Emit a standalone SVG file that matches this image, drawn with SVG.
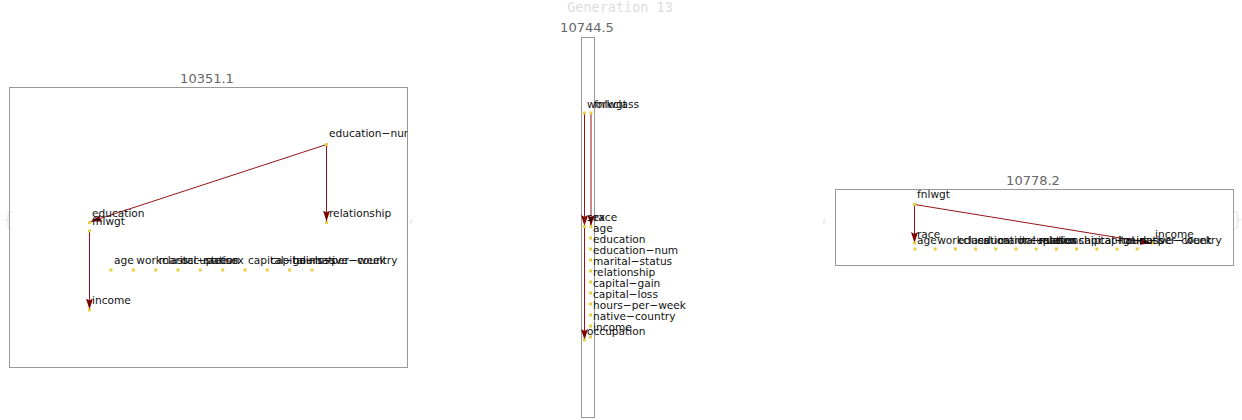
<svg xmlns="http://www.w3.org/2000/svg" width="1242" height="420" viewBox="0 0 1242 420">
<style>
.title{font-family:"DejaVu Sans",sans-serif;font-size:13px;fill:#666;text-anchor:middle}
.gen{font-family:"DejaVu Sans Mono",monospace;font-size:13.5px;fill:#ddd;text-anchor:middle}
.lbl{font-family:"DejaVu Sans",sans-serif;font-size:10.6px;fill:#111}
.panel{fill:none;stroke:#999;stroke-width:1}
.node{fill:#e8d044}
.edge{stroke:#961414;stroke-width:1;fill:none;marker-end:url(#arr)}
.brace{font-family:"DejaVu Sans",sans-serif;font-size:20px;fill:#ececec}
</style>
<defs>
<marker id="arr" markerUnits="userSpaceOnUse" markerWidth="11" markerHeight="7" refX="11" refY="3.5" orient="auto" viewBox="0 0 11 7">
<path d="M0,0 L11,3.5 L0,7 L2,3.5 z" fill="#7a0000"/>
</marker>
<clipPath id="c1"><rect x="9.5" y="87.5" width="398" height="280"/></clipPath>
</defs>
<rect width="1242" height="420" fill="#fff"/>
<text class="gen" x="620" y="12">Generation 13</text>
<text class="brace" x="2" y="226">{</text>
<text class="brace" x="408" y="222">,</text>
<text class="brace" x="821" y="222">,</text>
<text class="brace" x="1231" y="226">}</text>

<g id="panel1">
<text class="title" x="207" y="83">10351.1</text>
<rect class="panel" x="9.5" y="87.5" width="398" height="280"/>
<g id="p1-edges">
<line class="edge" x1="326.5" y1="144.5" x2="91" y2="221.5"/>
<line class="edge" x1="326.5" y1="144.5" x2="326.5" y2="221.5"/>
<line class="edge" x1="89.5" y1="231" x2="89.5" y2="309.5"/>
</g>
<g clip-path="url(#c1)">
<g id="p1-education-num"><rect class="node" x="325" y="143" width="3" height="3"/><text class="lbl" x="329" y="137">education−num</text></g>
<g id="p1-relationship"><rect class="node" x="325" y="221" width="3" height="3"/><text class="lbl" x="329" y="217">relationship</text></g>
<g id="p1-education"><rect class="node" x="88" y="221" width="3" height="3"/><text class="lbl" x="92" y="217">education</text></g>
<g id="p1-fnlwgt"><rect class="node" x="88" y="229.5" width="3" height="3"/><text class="lbl" x="92" y="225">fnlwgt</text></g>
<g id="p1-income"><rect class="node" x="88" y="308.5" width="3" height="3"/><text class="lbl" x="92" y="304">income</text></g>
<g id="p1-age"><rect class="node" x="109.5" y="268.5" width="3" height="3"/><text class="lbl" x="114" y="264">age</text></g>
<g id="p1-workclass"><rect class="node" x="131.8" y="268.5" width="3" height="3"/><text class="lbl" x="136.3" y="264">workclass</text></g>
<g id="p1-marital-status"><rect class="node" x="154.2" y="268.5" width="3" height="3"/><text class="lbl" x="158.7" y="264">marital−status</text></g>
<g id="p1-occupation"><rect class="node" x="176.5" y="268.5" width="3" height="3"/><text class="lbl" x="181" y="264">occupation</text></g>
<g id="p1-race"><rect class="node" x="198.8" y="268.5" width="3" height="3"/><text class="lbl" x="203.3" y="264">race</text></g>
<g id="p1-sex"><rect class="node" x="221.2" y="268.5" width="3" height="3"/><text class="lbl" x="225.7" y="264">sex</text></g>
<g id="p1-capital-gain"><rect class="node" x="243.5" y="268.5" width="3" height="3"/><text class="lbl" x="248" y="264">capital−gain</text></g>
<g id="p1-capital-loss"><rect class="node" x="265.8" y="268.5" width="3" height="3"/><text class="lbl" x="270.3" y="264">capital−loss</text></g>
<g id="p1-hours-per-week"><rect class="node" x="288.2" y="268.5" width="3" height="3"/><text class="lbl" x="292.7" y="264">hours−per−week</text></g>
<g id="p1-native-country"><rect class="node" x="310.5" y="268.5" width="3" height="3"/><text class="lbl" x="315" y="264">native−country</text></g>
</g>
</g>

<g id="panel2">
<text class="title" x="587" y="32">10744.5</text>
<rect class="panel" x="581.5" y="37.5" width="13" height="380"/>
<g id="p2-edges">
<line class="edge" x1="584.5" y1="113" x2="584.5" y2="226"/>
<line class="edge" x1="591" y1="113" x2="591" y2="226"/>
<line class="edge" x1="584.5" y1="113" x2="584.5" y2="340"/>
</g>
<g id="p2-workclass"><rect class="node" x="583" y="111.5" width="3" height="3"/><text class="lbl" x="587" y="108">workclass</text></g>
<g id="p2-fnlwgt"><rect class="node" x="589.5" y="111.5" width="3" height="3"/><text class="lbl" x="594" y="108">fnlwgt</text></g>
<g id="p2-sex"><rect class="node" x="583" y="225" width="3" height="3"/><text class="lbl" x="587" y="221">sex</text></g>
<g id="p2-race"><rect class="node" x="589.5" y="225" width="3" height="3"/><text class="lbl" x="594" y="221">race</text></g>
<g id="p2-age"><rect class="node" x="589" y="236.5" width="3" height="3"/><text class="lbl" x="593" y="232">age</text></g>
<g id="p2-education"><rect class="node" x="589" y="247.5" width="3" height="3"/><text class="lbl" x="593" y="243">education</text></g>
<g id="p2-education-num"><rect class="node" x="589" y="258.5" width="3" height="3"/><text class="lbl" x="593" y="254">education−num</text></g>
<g id="p2-marital-status"><rect class="node" x="589" y="269.5" width="3" height="3"/><text class="lbl" x="593" y="265">marital−status</text></g>
<g id="p2-relationship"><rect class="node" x="589" y="280.5" width="3" height="3"/><text class="lbl" x="593" y="276">relationship</text></g>
<g id="p2-capital-gain"><rect class="node" x="589" y="291.5" width="3" height="3"/><text class="lbl" x="593" y="287">capital−gain</text></g>
<g id="p2-capital-loss"><rect class="node" x="589" y="302.5" width="3" height="3"/><text class="lbl" x="593" y="298">capital−loss</text></g>
<g id="p2-hours-per-week"><rect class="node" x="589" y="313.5" width="3" height="3"/><text class="lbl" x="593" y="309">hours−per−week</text></g>
<g id="p2-native-country"><rect class="node" x="589" y="324.5" width="3" height="3"/><text class="lbl" x="593" y="320">native−country</text></g>
<g id="p2-income"><rect class="node" x="589" y="335.5" width="3" height="3"/><text class="lbl" x="593" y="331">income</text></g>
<g id="p2-occupation"><rect class="node" x="583" y="338.5" width="3" height="3"/><text class="lbl" x="587" y="335">occupation</text></g>
</g>

<g id="panel3">
<text class="title" x="1033" y="185">10778.2</text>
<rect class="panel" x="835.5" y="189.5" width="398" height="76"/>
<g id="p3-edges">
<line class="edge" x1="914.5" y1="204.5" x2="914.5" y2="243"/>
<line class="edge" x1="914.5" y1="204.5" x2="1151" y2="243"/>
</g>
<g id="p3-fnlwgt"><rect class="node" x="913" y="203" width="3" height="3"/><text class="lbl" x="917" y="198">fnlwgt</text></g>
<g id="p3-race"><rect class="node" x="913" y="241.5" width="3" height="3"/><text class="lbl" x="917" y="238">race</text></g>
<g id="p3-income"><rect class="node" x="1150.5" y="241.5" width="3" height="3"/><text class="lbl" x="1155" y="238">income</text></g>
<g id="p3-age"><rect class="node" x="913.5" y="247.5" width="3" height="3"/><text class="lbl" x="917" y="244">age</text></g>
<g id="p3-workclass"><rect class="node" x="933.7" y="247.5" width="3" height="3"/><text class="lbl" x="937.2" y="244">workclass</text></g>
<g id="p3-education"><rect class="node" x="953.9" y="247.5" width="3" height="3"/><text class="lbl" x="957.4" y="244">education</text></g>
<g id="p3-education-num"><rect class="node" x="974.1" y="247.5" width="3" height="3"/><text class="lbl" x="977.6" y="244">education−num</text></g>
<g id="p3-marital-status"><rect class="node" x="994.3" y="247.5" width="3" height="3"/><text class="lbl" x="997.8" y="244">marital−status</text></g>
<g id="p3-occupation"><rect class="node" x="1014.5" y="247.5" width="3" height="3"/><text class="lbl" x="1018" y="244">occupation</text></g>
<g id="p3-relationship"><rect class="node" x="1034.7" y="247.5" width="3" height="3"/><text class="lbl" x="1038.2" y="244">relationship</text></g>
<g id="p3-sex"><rect class="node" x="1054.9" y="247.5" width="3" height="3"/><text class="lbl" x="1058.4" y="244">sex</text></g>
<g id="p3-capital-gain"><rect class="node" x="1075.1" y="247.5" width="3" height="3"/><text class="lbl" x="1078.6" y="244">capital−gain</text></g>
<g id="p3-capital-loss"><rect class="node" x="1095.3" y="247.5" width="3" height="3"/><text class="lbl" x="1098.8" y="244">capital−loss</text></g>
<g id="p3-hours-per-week"><rect class="node" x="1115.5" y="247.5" width="3" height="3"/><text class="lbl" x="1119" y="244">hours−per−week</text></g>
<g id="p3-native-country"><rect class="node" x="1135.7" y="247.5" width="3" height="3"/><text class="lbl" x="1139.2" y="244">native−country</text></g>
</g>
</svg>
